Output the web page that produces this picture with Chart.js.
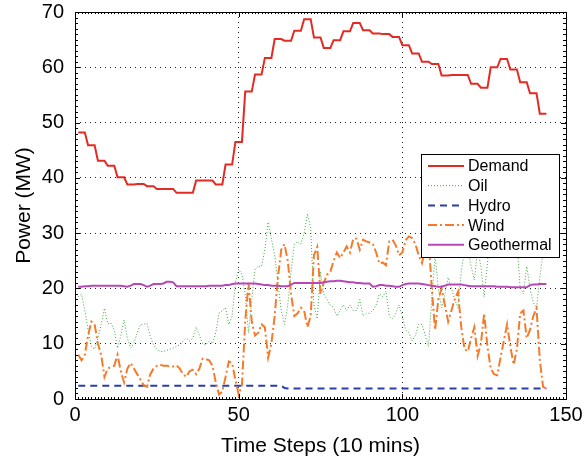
<!DOCTYPE html>
<html>
<head>
<meta charset="utf-8">
<script src="https://cdn.jsdelivr.net/npm/chart.js@4.4.1/dist/chart.umd.min.js"></script>
<style>
  html, body { margin: 0; padding: 0; background: #fff; }
  canvas { display: block; }
</style>
</head>
<body>
<canvas id="powerChart" width="588" height="463"></canvas>
<script>
// time steps 1..144 (10 minute intervals)
var steps = [];
for (var i = 1; i <= 144; i++) {
    steps.push(i);
}

var demand = [
    48.2, 48.2, 48.2, 45.9, 45.9, 45.9, 43.1, 43.1, 43.1, 42.2, 42.2, 42.2,
    40.1, 40.1, 40.1, 38.8, 38.8, 38.8, 38.9, 38.9, 38.9, 38.5, 38.5, 38.5,
    38.0, 38.0, 38.0, 38.0, 38.0, 38.0, 37.3, 37.3, 37.3, 37.3, 37.3, 37.3,
    39.5, 39.5, 39.5, 39.5, 39.5, 39.5, 38.8, 38.8, 38.8, 42.4, 42.4, 42.4,
    46.5, 46.5, 46.5, 55.6, 55.6, 55.6, 58.7, 58.7, 58.7, 61.7, 61.7, 61.7,
    65.1, 65.1, 65.1, 64.8, 64.8, 64.8, 66.6, 66.6, 66.6, 68.7, 68.7, 68.7,
    65.4, 65.4, 65.4, 63.5, 63.5, 63.5, 64.9, 64.9, 64.9, 66.5, 66.5, 66.5,
    68.0, 68.0, 68.0, 66.7, 66.7, 66.7, 66.1, 66.1, 66.1, 66.0, 66.0, 66.0,
    65.5, 65.5, 65.5, 64.0, 64.0, 64.0, 62.5, 62.5, 62.5, 61.0, 61.0, 61.0,
    60.6, 60.6, 60.6, 58.5, 58.5, 58.5, 58.6, 58.6, 58.6, 58.6, 58.6, 58.6,
    57.0, 57.0, 57.0, 56.3, 56.3, 56.3, 60.0, 60.0, 60.0, 61.5, 61.5, 61.5,
    59.6, 59.6, 59.6, 57.3, 57.3, 57.3, 55.3, 55.3, 55.3, 51.6, 51.6, 51.6
];

var oil = [
    18.5, 19, 16, 12.5, 9.5, 9, 11, 13.5, 16.4, 13.6,
    13.7, 12.5, 9.2, 11.5, 14.3, 11, 9.2, 10, 12, 13.5,
    13.5, 13.7, 11.3, 9.8, 9, 8.6, 8.6, 8.8, 9, 9.2,
    9.5, 9.8, 10.5, 11, 10.5, 11, 13, 11.5, 10, 9.8,
    10.5, 10, 12, 15.5, 16, 16.5, 13.5, 15, 21, 23.5,
    22.5, 19, 12, 18, 23.5, 24, 24, 27, 32, 29,
    26, 21, 16, 13.5, 17, 23, 28, 28.5, 28, 30,
    33.5, 31, 17, 14.5, 23, 19, 18, 17, 16.5, 15,
    16, 17, 16, 17, 16, 16, 18, 15, 15.5, 15.5,
    16, 17, 19, 18.5, 19.5, 15, 14.5, 15.5, 17, 15,
    12.5, 12, 10.5, 11.5, 13.5, 13.5, 11.5, 9.5, 18, 26,
    20, 16.5, 19, 22, 20, 18, 16.5, 23, 27, 27.5,
    24, 21.5, 27, 24, 18.5, 24.5, 32, 33, 33.5, 32,
    29, 26, 28, 31, 28.5, 20, 19, 24, 20, 17.5,
    16.5, 22, 26.5, 27
];

var hydro = [
    2.4, 2.4, 2.4, 2.4, 2.4, 2.4, 2.4, 2.4, 2.4, 2.4, 2.4, 2.4,
    2.4, 2.4, 2.4, 2.4, 2.4, 2.4, 2.4, 2.4, 2.4, 2.4, 2.4, 2.4,
    2.4, 2.4, 2.4, 2.4, 2.4, 2.4, 2.4, 2.4, 2.4, 2.4, 2.4, 2.4,
    2.4, 2.4, 2.4, 2.4, 2.4, 2.4, 2.4, 2.4, 2.4, 2.4, 2.4, 2.4,
    2.4, 2.4, 2.4, 2.4, 2.4, 2.4, 2.4, 2.4, 2.4, 2.4, 2.4, 2.4,
    2.4, 2.4, 2.4, 2.0, 1.9, 1.9, 1.9, 1.9, 1.9, 1.9, 1.9, 1.9,
    1.9, 1.9, 1.9, 1.9, 1.9, 1.9, 1.9, 1.9, 1.9, 1.9, 1.9, 1.9,
    1.9, 1.9, 1.9, 1.9, 1.9, 1.9, 1.9, 1.9, 1.9, 1.9, 1.9, 1.9,
    1.9, 1.9, 1.9, 1.9, 1.9, 1.9, 1.9, 1.9, 1.9, 1.9, 1.9, 1.9,
    1.9, 1.9, 1.9, 1.9, 1.9, 1.9, 1.9, 1.9, 1.9, 1.9, 1.9, 1.9,
    1.9, 1.9, 1.9, 1.9, 1.9, 1.9, 1.9, 1.9, 1.9, 1.9, 1.9, 1.9,
    1.9, 1.9, 1.9, 1.9, 1.9, 1.9, 1.9, 1.9, 1.9, 1.9, 1.9, 1.9
];

var wind = [
    8, 7, 8, 11.5, 14, 13.5, 10, 8, 4, 5.5,
    5.8, 6, 8, 5, 3, 5.5, 6.5, 5.5, 4.5, 3.5,
    2.5, 2.2, 4.5, 5.5, 6, 6.2, 6, 6, 5.9, 5.9,
    6.1, 5.5, 4.5, 4, 5, 5.3, 4.5, 5.5, 7.3, 7.2,
    7, 6, 3, 0.8, 1.3, 4, 6.8, 6.5, 3.5, 0.8,
    2.5, 14, 21, 14, 11.5, 12, 13.5, 13, 7.5, 10,
    15, 22, 27, 28, 25, 19, 15, 15.5, 16.5, 16,
    13, 15, 26, 27.5, 19, 21, 22.5, 23, 25, 26.5,
    25.5, 26.5, 27.6, 26.5, 29, 29, 27, 28.8, 28.5, 28.3,
    28, 26.5, 24.5, 24.7, 24.2, 28.5, 28.8, 27.8, 26, 26.5,
    28.7, 29.4, 29.1, 28, 26, 24.6, 27, 29, 20, 12.5,
    18, 20, 17, 14, 16, 18, 19.4, 13, 9, 8.6,
    11, 13, 7.8, 10, 15.5, 9.5, 5.5, 4.5, 4.3, 7.5,
    10.5, 13.5, 9.5, 6.2, 9, 15.5, 16, 11, 12.5, 15,
    16.4, 7, 2.2, 1.9
];

var geothermal = [
    20.3, 20.3, 20.4, 20.4, 20.5, 20.5, 20.5, 20.5, 20.5, 20.5, 20.5, 20.5,
    20.5, 20.5, 20.4, 20.3, 20.5, 20.8, 20.8, 20.8, 20.6, 20.3, 20.5, 20.8,
    20.8, 20.8, 20.9, 21.2, 21.2, 21.1, 20.4, 20.4, 20.4, 20.4, 20.4, 20.4,
    20.4, 20.4, 20.4, 20.4, 20.5, 20.5, 20.5, 20.5, 20.5, 20.6, 20.6, 20.8,
    20.9, 20.9, 20.9, 20.9, 20.9, 20.9, 20.9, 20.8, 20.7, 20.6, 20.6, 20.5,
    20.5, 20.5, 20.4, 20.4, 20.4, 20.7, 21.0, 21.0, 21.0, 21.0, 21.0, 21.0,
    21.0, 21.0, 21.0, 21.1, 21.2, 21.3, 21.3, 21.4, 21.4, 21.3, 21.2, 21.1,
    21.1, 21.0, 21.0, 20.9, 20.9, 20.9, 20.3, 20.4, 20.6, 20.6, 20.5, 20.5,
    20.4, 20.3, 20.3, 20.6, 20.8, 20.9, 20.9, 20.9, 20.9, 20.8, 20.7, 20.6,
    20.5, 20.4, 20.3, 20.3, 20.5, 20.7, 20.7, 20.7, 20.7, 20.7, 20.6, 20.5,
    20.4, 20.4, 20.4, 20.4, 20.4, 20.4, 20.4, 20.4, 20.3, 20.3, 20.3, 20.3,
    20.2, 20.2, 20.2, 20.2, 20.2, 20.2, 20.6, 20.7, 20.7, 20.8, 20.8, 20.8
];

var xTicks = [0, 50, 100, 150];
var yTicks = [0, 10, 20, 30, 40, 50, 60, 70];

var fontFamily = '"Liberation Sans", Arial, Helvetica, sans-serif';

function toPoints(values) {
    return values.map(function (v, i) { return {x: steps[i], y: v}; });
}

// box, inward ticks and the legend inside the plot
var framePlugin = {
    id: 'frame',
    afterDatasetsDraw: function (chart) {
        var c = chart.ctx;
        var a = chart.chartArea;
        var xs = chart.scales.x, ys = chart.scales.y;
        c.save();
        c.strokeStyle = '#000';
        c.lineWidth = 1;
        c.setLineDash([]);

        c.beginPath();
        // minor ticks
        for (var v = 0; v <= 150; v += 1) {
            var px = Math.round(xs.getPixelForValue(v)) + 0.5;
            c.moveTo(px, a.bottom); c.lineTo(px, a.bottom - 2);
            c.moveTo(px, a.top); c.lineTo(px, a.top + 2);
        }
        for (var w = 0; w <= 70; w += 1) {
            var py = Math.round(ys.getPixelForValue(w)) + 0.5;
            c.moveTo(a.left, py); c.lineTo(a.left + 3, py);
            c.moveTo(a.right, py); c.lineTo(a.right - 3, py);
        }
        // major ticks
        xTicks.forEach(function (t) {
            var px = Math.round(xs.getPixelForValue(t)) + 0.5;
            c.moveTo(px, a.bottom); c.lineTo(px, a.bottom - 5);
            c.moveTo(px, a.top); c.lineTo(px, a.top + 5);
        });
        yTicks.forEach(function (t) {
            var py = Math.round(ys.getPixelForValue(t)) + 0.5;
            c.moveTo(a.left, py); c.lineTo(a.left + 5, py);
            c.moveTo(a.right, py); c.lineTo(a.right - 5, py);
        });
        c.stroke();

        c.strokeRect(Math.round(a.left) + 0.5, Math.round(a.top) + 0.5,
            Math.round(a.right - a.left), Math.round(a.bottom - a.top));

        // legend
        var lx = 421.5, ly = 154.5, lw = 138, lh = 103;
        c.fillStyle = '#fff';
        c.fillRect(lx, ly, lw, lh);
        c.strokeRect(lx, ly, lw, lh);
        c.font = '16px ' + fontFamily;
        c.textBaseline = 'middle';
        c.textAlign = 'left';
        chart.data.datasets.forEach(function (ds, i) {
            var y = 166 + i * 19.7;
            c.save();
            c.strokeStyle = ds.borderColor;
            c.lineWidth = ds.borderWidth;
            c.setLineDash(ds.borderDash || []);
            c.beginPath();
            c.moveTo(428, y);
            c.lineTo(464, y);
            c.stroke();
            c.restore();
            c.fillStyle = '#000';
            c.fillText(ds.label, 468, y + 1);
        });
        c.restore();
    }
};

var ctx = document.getElementById('powerChart').getContext('2d');
var powerChart = new Chart(ctx, {
    type: 'line',
    data: {
        datasets: [{
            label: 'Demand',
            data: toPoints(demand),
            borderColor: '#e32b24',
            borderWidth: 2,
            order: 5
        },
        {
            label: 'Oil',
            data: toPoints(oil),
            borderColor: '#3ca83c',
            borderWidth: 1,
            borderDash: [1, 2],
            order: 4
        },
        {
            label: 'Hydro',
            data: toPoints(hydro),
            borderColor: '#2b3fa6',
            borderWidth: 2,
            borderDash: [7, 5],
            order: 3
        },
        {
            label: 'Wind',
            data: toPoints(wind),
            borderColor: '#f57b2b',
            borderWidth: 2,
            borderDash: [9, 3, 2, 3],
            order: 2
        },
        {
            label: 'Geothermal',
            data: toPoints(geothermal),
            borderColor: '#b848b8',
            borderWidth: 2,
            order: 1
        }]
    },
    options: {
        responsive: false,
        animation: false,
        devicePixelRatio: 1,
        layout: {
            padding: {top: 12, right: 22, left: 0, bottom: 0}
        },
        elements: {
            point: {radius: 0},
            line: {tension: 0, fill: false}
        },
        plugins: {
            legend: {display: false},
            tooltip: {enabled: false}
        },
        scales: {
            x: {
                type: 'linear',
                min: 0,
                max: 150,
                afterBuildTicks: function (scale) {
                    scale.ticks = xTicks.map(function (v) { return {value: v}; });
                },
                afterFit: function (scale) {
                    scale.height = 64;
                    scale.paddingLeft = 0;
                    scale.paddingRight = 0;
                },
                ticks: {
                    color: '#000',
                    padding: 4,
                    maxRotation: 0,
                    font: {size: 20, family: fontFamily}
                },
                grid: {color: '#222', lineWidth: 1, drawTicks: false},
                border: {display: false, dash: [1, 4]},
                title: {
                    display: true,
                    text: 'Time Steps (10 mins)',
                    color: '#000',
                    font: {size: 21, family: fontFamily},
                    padding: {top: 0, bottom: 4}
                }
            },
            y: {
                min: 0,
                max: 70,
                afterBuildTicks: function (scale) {
                    scale.ticks = yTicks.map(function (v) { return {value: v}; });
                },
                afterFit: function (scale) {
                    scale.width = 75;
                    scale.paddingTop = 0;
                    scale.paddingBottom = 0;
                },
                ticks: {
                    color: '#000',
                    padding: 11,
                    font: {size: 20, family: fontFamily}
                },
                grid: {color: '#222', lineWidth: 1, drawTicks: false},
                border: {display: false, dash: [1, 4]},
                title: {
                    display: true,
                    text: 'Power (MW)',
                    color: '#000',
                    font: {size: 21, family: fontFamily},
                    padding: {top: 12, bottom: 0}
                }
            }
        }
    },
    plugins: [framePlugin]
});
</script>
</body>
</html>
